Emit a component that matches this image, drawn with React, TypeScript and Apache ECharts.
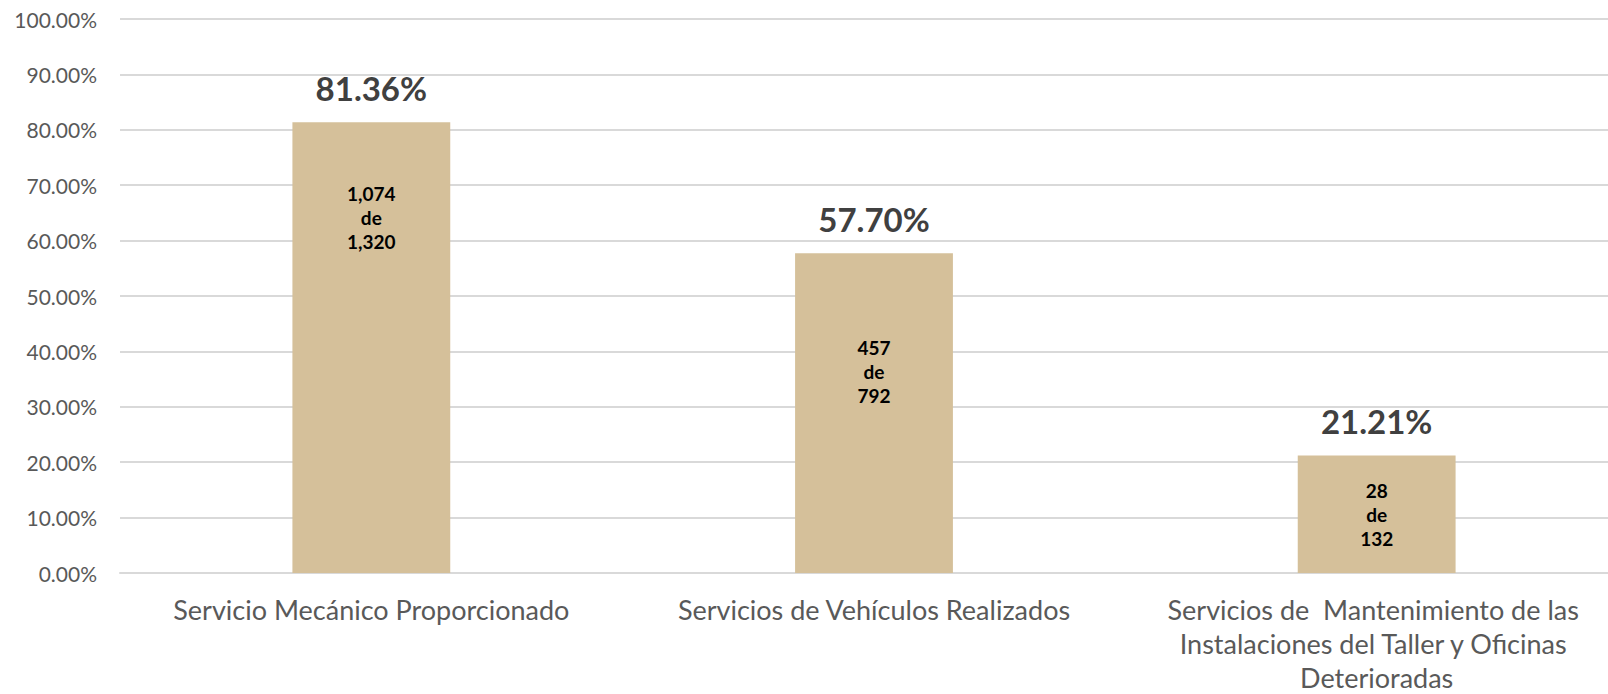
import React, { useEffect, useRef } from "react";
import * as echarts from "echarts";

const categories: string[] = [
  "Servicio Mecánico Proporcionado",
  "Servicios de Vehículos Realizados",
  "Servicios de  Mantenimiento de las Instalaciones del Taller y Oficinas Deterioradas",
];
const percentages: number[] = [81.36, 57.7, 21.21];
const achieved: number[] = [1074, 457, 28];
const totals: number[] = [1320, 792, 132];
const yTicks = { min: 0, max: 100, interval: 10 };

const FONT = "Lato";
const innerOffsets = [-130, -42, 0];

export default function App() {
  const ref = useRef<HTMLDivElement>(null);
  useEffect(() => {
    document.body.style.margin = "0";
    document.body.style.overflow = "hidden";
    if (!ref.current) return;
    const chart = echarts.init(ref.current, null, { renderer: "svg" });
    const fmt = (n: number) => n.toLocaleString("en-US");
    chart.setOption({
      animation: false,
      backgroundColor: "#ffffff",
      grid: {
        left: 120,
        right: 0,
        top: 19,
        bottom: 121,
        containLabel: false,
        outerBoundsMode: "none",
      },
      xAxis: {
        type: "category",
        data: categories,
        axisLine: { show: true, lineStyle: { color: "#d9d9d9", width: 2 } },
        axisTick: { show: false },
        axisLabel: {
          interval: 0,
          margin: 19,
          color: "#595959",
          fontFamily: FONT,
          fontSize: 27,
          lineHeight: 34,
          width: 450,
          overflow: "break",
        },
      },
      yAxis: {
        type: "value",
        min: yTicks.min,
        max: yTicks.max,
        interval: yTicks.interval,
        axisLine: { show: false },
        axisTick: { show: false },
        splitLine: { lineStyle: { color: "#d9d9d9", width: 2 } },
        axisLabel: {
          margin: 23,
          color: "#595959",
          fontFamily: FONT,
          fontSize: 21,
          formatter: (v: number) => v.toFixed(2) + "%",
        },
      },
      series: [
        {
          type: "bar",
          data: percentages,
          barWidth: "31.4%",
          itemStyle: { color: "#d5c09a" },
          label: {
            show: true,
            position: "top",
            distance: 18,
            color: "#404040",
            fontFamily: FONT,
            fontWeight: "bold",
            fontSize: 33,
            formatter: (p: any) => percentages[p.dataIndex].toFixed(2) + "%",
          },
        },
        {
          type: "bar",
          data: percentages.map((v, i) => ({
            value: v,
            label: { offset: [0, innerOffsets[i]] },
          })),
          barWidth: "31.4%",
          barGap: "-100%",
          itemStyle: { color: "rgba(0,0,0,0)" },
          label: {
            show: true,
            position: "inside",
            color: "#000000",
            fontFamily: FONT,
            fontWeight: "bold",
            fontSize: 19,
            lineHeight: 24,
            formatter: (p: any) =>
              `${fmt(achieved[p.dataIndex])}\nde\n${fmt(totals[p.dataIndex])}`,
          },
        },
      ],
    });
    return () => chart.dispose();
  }, []);
  return (
    <div style={{ width: 1608, height: 694, overflow: "hidden", position: "relative" }}>
      <div ref={ref} style={{ width: 1628, height: 694 }} />
    </div>
  );
}
